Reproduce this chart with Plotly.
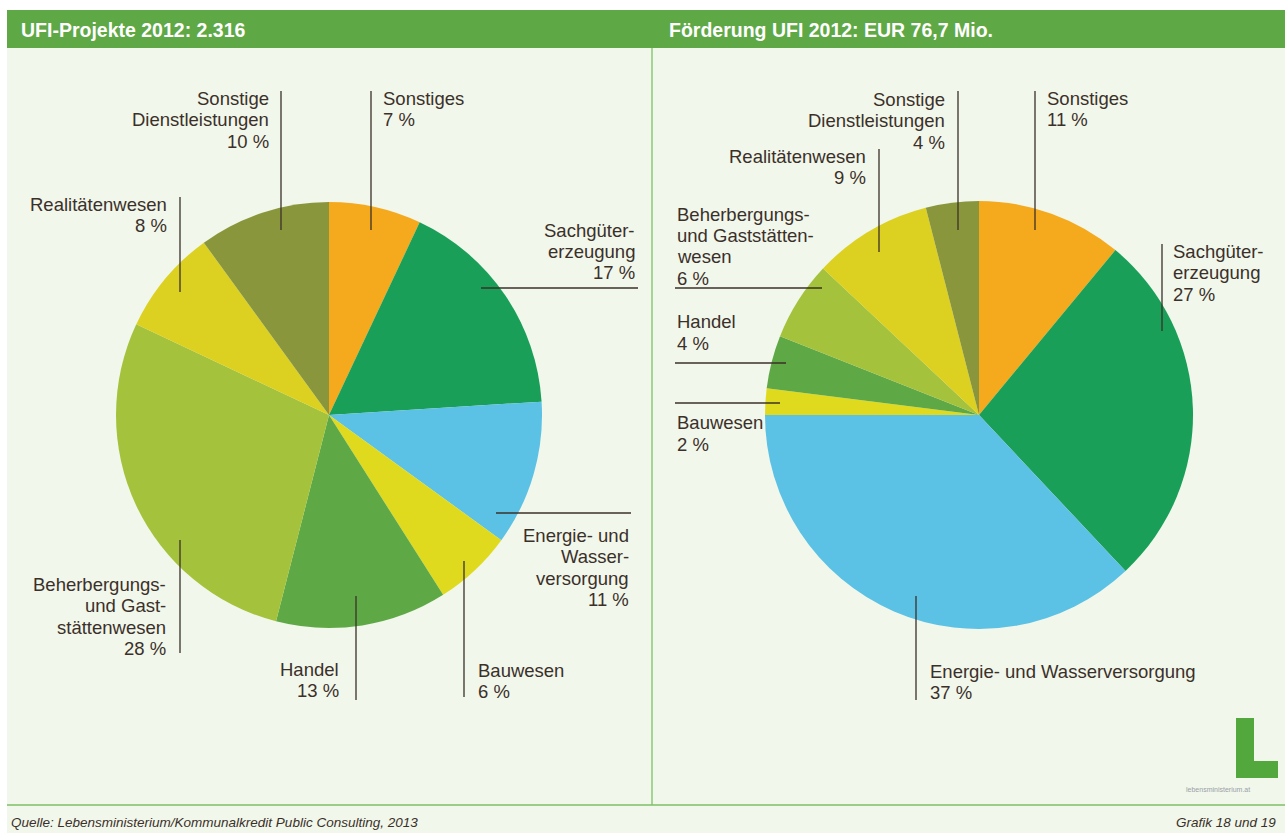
import plotly.graph_objects as go

W, H = 1285, 833

# ---------------------- DATA ----------------------
branchen = ['Sonstiges', 'Sachgütererzeugung', 'Energie- und Wasserversorgung', 'Bauwesen',
            'Handel', 'Beherbergungs- und Gaststättenwesen', 'Realitätenwesen',
            'Sonstige Dienstleistungen']
projekte_pct = [7, 17, 11, 6, 13, 28, 8, 10]
foerderung_pct = [11, 27, 37, 2, 4, 6, 9, 4]
farben = ['#f5a91d', '#199f58', '#5bc1e5', '#e0da1f', '#5ea946', '#a4c23b', '#dcd021', '#8a963c']

titel_links = "UFI-Projekte 2012: 2.316"
titel_rechts = "Förderung UFI 2012: EUR 76,7 Mio."
quelle = "Quelle: Lebensministerium/Kommunalkredit Public Consulting, 2013"
grafik = "Grafik 18 und 19"

# label lines (same order as branchen)
labels_links = [["Sonstiges", "7 %"], ["Sachgüter-", "erzeugung", "17 %"],
                ["Energie- und", "Wasser-", "versorgung", "11 %"], ["Bauwesen", "6 %"],
                ["Handel", "13 %"], ["Beherbergungs-", "und Gast-", "stättenwesen", "28 %"],
                ["Realitätenwesen", "8 %"], ["Sonstige", "Dienstleistungen", "10 %"]]
labels_rechts = [["Sonstiges", "11 %"], ["Sachgüter-", "erzeugung", "27 %"],
                 ["Energie- und Wasserversorgung", "37 %"], ["Bauwesen", "2 %"],
                 ["Handel", "4 %"], ["Beherbergungs-", "und Gaststätten-", "wesen", "6 %"],
                 ["Realitätenwesen", "9 %"], ["Sonstige", "Dienstleistungen", "4 %"]]

# label placement (pixels): x, centre of first line, anchor
pos_links = [(381, 98, 'left'), (637, 230, 'right'), (631, 535, 'right'), (476, 670, 'left'),
             (341, 669, 'right'), (168, 584, 'right'), (169, 204, 'right'), (271, 98, 'right')]
pos_rechts = [(1045, 98, 'left'), (1171, 251, 'left'), (928, 671, 'left'), (675, 423, 'left'),
              (675, 322, 'left'), (675, 214, 'left'), (868, 156, 'right'), (947, 99, 'right')]
zeilenabstand = 21.5

# leader lines (pixels): x0, y0, x1, y1
linien = [
    (371, 91, 371, 230), (481, 288, 638, 288), (496, 513, 631, 513), (464, 561, 464, 697),
    (356, 596, 356, 700), (180, 540, 180, 653), (180, 197, 180, 292), (281, 91, 281, 230),
    (1035, 91, 1035, 230), (1162, 244, 1162, 331), (916, 596, 916, 700), (675, 403, 780, 403),
    (675, 363, 786, 363), (675, 288, 822, 288), (879, 149, 879, 252), (958, 91, 958, 230),
]


def px(x):
    return x / W


def py(y):
    return 1 - y / H


fig = go.Figure()

for werte, (x0, x1) in [(projekte_pct, (116, 542)), (foerderung_pct, (765, 1193))]:
    fig.add_trace(go.Pie(
        labels=branchen,
        values=werte,
        sort=False,
        direction='clockwise',
        rotation=0,
        textinfo='none',
        marker=dict(colors=farben, line=dict(width=0)),
        domain=dict(x=[px(x0), px(x1)], y=[py(629), py(201)]),
        showlegend=False,
        hovertemplate="%{label}: %{value} %<extra></extra>",
    ))

shapes = [
    # background panel
    dict(type='rect', xref='paper', yref='paper', x0=px(7), x1=1, y0=0, y1=py(48),
         fillcolor='#f1f7eb', line=dict(width=0), layer='below'),
    # header bar
    dict(type='rect', xref='paper', yref='paper', x0=px(7), x1=1, y0=py(48), y1=py(10),
         fillcolor='#5fa846', line=dict(width=0), layer='below'),
    # divider and bottom rule
    dict(type='line', xref='paper', yref='paper', x0=px(652), x1=px(652), y0=py(805), y1=py(48),
         line=dict(color='#8cc874', width=1.5)),
    dict(type='line', xref='paper', yref='paper', x0=px(7), x1=1, y0=py(805), y1=py(805),
         line=dict(color='#7dc067', width=1.5)),
    # logo
    dict(type='rect', xref='paper', yref='paper', x0=px(1236), x1=px(1254), y0=py(778), y1=py(718),
         fillcolor='#52a83c', line=dict(width=0)),
    dict(type='rect', xref='paper', yref='paper', x0=px(1236), x1=px(1278), y0=py(778), y1=py(761),
         fillcolor='#52a83c', line=dict(width=0)),
]
for x0, y0, x1, y1 in linien:
    shapes.append(dict(type='line', xref='paper', yref='paper',
                       x0=px(x0), x1=px(x1), y0=py(y0), y1=py(y1),
                       line=dict(color='#3b3029', width=1.3)))

annotations = []
for texte, positionen in [(labels_links, pos_links), (labels_rechts, pos_rechts)]:
    for zeilen, (x, y, anker) in zip(texte, positionen):
        for i, z in enumerate(zeilen):
            annotations.append(dict(
                text=z, x=px(x), y=py(y + i * zeilenabstand), xref='paper', yref='paper',
                xanchor=anker, yanchor='middle', showarrow=False,
                font=dict(family='Liberation Sans, Arial, sans-serif', size=18.5, color='#3b3029'),
            ))

for t, x in [(titel_links, 19), (titel_rechts, 667)]:
    annotations.append(dict(
        text='<b>' + t + '</b>', x=px(x), y=py(30), xref='paper', yref='paper',
        xanchor='left', yanchor='middle', showarrow=False,
        font=dict(family='Liberation Sans, Arial, sans-serif', size=19.5, color='white'),
    ))

annotations += [
    dict(text='<i>' + quelle + '</i>', x=px(9), y=py(822), xref='paper', yref='paper',
         xanchor='left', yanchor='middle', showarrow=False,
         font=dict(family='Liberation Sans, Arial, sans-serif', size=13.5, color='#3b3029')),
    dict(text='<i>' + grafik + '</i>', x=px(1278), y=py(822), xref='paper', yref='paper',
         xanchor='right', yanchor='middle', showarrow=False,
         font=dict(family='Liberation Sans, Arial, sans-serif', size=13.5, color='#3b3029')),
    dict(text='lebensministerium.at', x=px(1218), y=py(789), xref='paper', yref='paper',
         xanchor='center', yanchor='middle', showarrow=False,
         font=dict(family='Liberation Sans, Arial, sans-serif', size=7, color='#9aa0a8')),
]

fig.update_layout(
    width=W,
    height=H,
    margin=dict(l=0, r=0, t=0, b=0),
    paper_bgcolor='white',
    plot_bgcolor='rgba(0,0,0,0)',
    shapes=shapes,
    annotations=annotations,
    dragmode=False,
)

fig.write_html("out.html", config=dict(displayModeBar=False),
               post_script="document.body.style.margin='0';")
